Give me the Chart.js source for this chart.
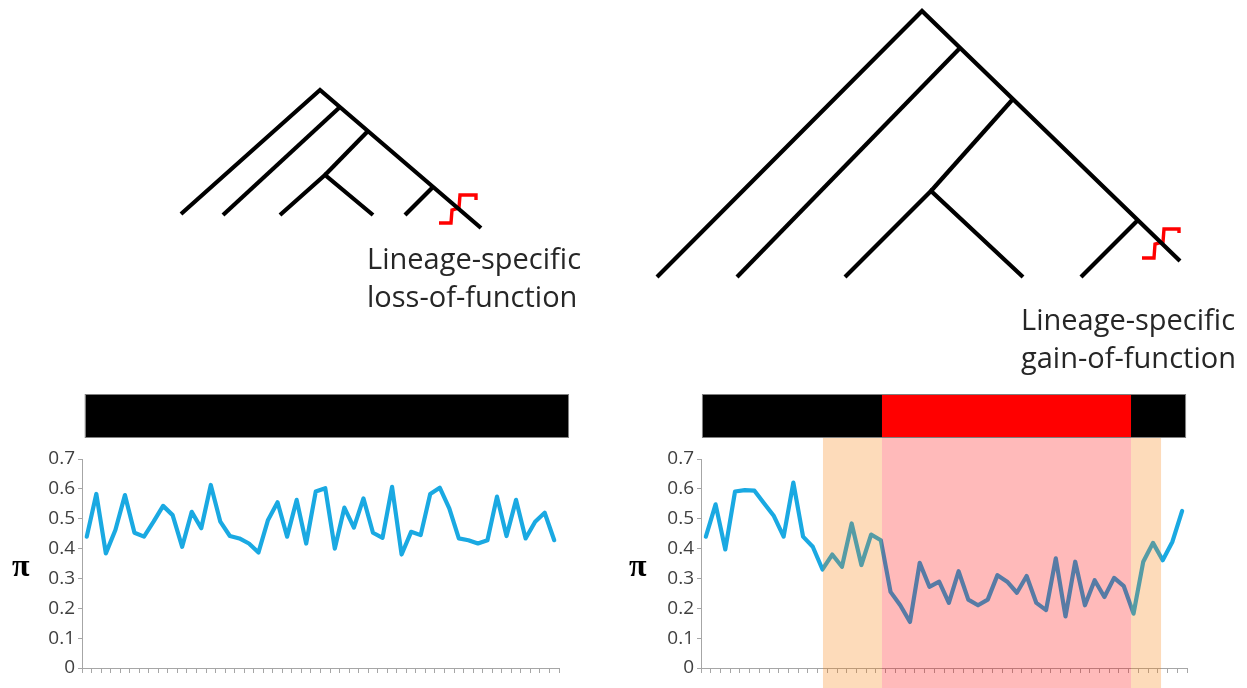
<!DOCTYPE html>
<html lang="en">
<head>
<meta charset="UTF-8">
<title>Lineage-specific loss and gain of function</title>
<script src="https://cdn.jsdelivr.net/npm/chart.js@4.4.1/dist/chart.umd.min.js"></script>
<style>
  html, body { margin: 0; padding: 0; background: #fff; }
  body { width: 1247px; height: 688px; position: relative; overflow: hidden; font-family: 'Open Sans', sans-serif; color: #262626; }
  canvas { position: absolute; }
  .note { position: absolute; font-size: 29px; line-height: 38px; white-space: nowrap; }
  .pi { position: absolute; font-family: 'Liberation Serif', serif; font-weight: bold; font-size: 32px; line-height: 32px; color: #000; }
</style>
</head>
<body>
<canvas id="trees" width="1247" height="390" style="left:0;top:0"></canvas>
<canvas id="piLoss" width="600" height="308" style="left:0;top:380px"></canvas>
<canvas id="piGain" width="637" height="308" style="left:610px;top:380px"></canvas>

<div class="note" style="left:367px;top:239px">Lineage-specific<br>loss-of-function</div>
<div class="note" style="left:1021px;top:300px">Lineage-specific<br>gain-of-function</div>
<div class="pi" style="left:12px;top:549px">π</div>
<div class="pi" style="left:629px;top:549px">π</div>

<script>
  // nucleotide diversity (pi) per window, 50 windows each
  const lossPi = [0.44, 0.583, 0.384, 0.462, 0.579, 0.453, 0.44, 0.49, 0.543, 0.512,
                  0.406, 0.523, 0.468, 0.613, 0.49, 0.442, 0.434, 0.417, 0.387, 0.496,
                  0.555, 0.44, 0.563, 0.417, 0.591, 0.602, 0.40, 0.537, 0.47, 0.568,
                  0.453, 0.436, 0.607, 0.38, 0.456, 0.445, 0.583, 0.604, 0.535, 0.434,
                  0.428, 0.417, 0.428, 0.574, 0.442, 0.563, 0.434, 0.49, 0.52, 0.428];
  const gainPi = [0.44, 0.548, 0.397, 0.591, 0.596, 0.594, 0.551, 0.509, 0.44, 0.621,
                  0.44, 0.406, 0.33, 0.38, 0.339, 0.484, 0.345, 0.447, 0.428, 0.255,
                  0.21, 0.154, 0.352, 0.272, 0.289, 0.218, 0.324, 0.229, 0.21, 0.229,
                  0.311, 0.289, 0.252, 0.308, 0.218, 0.194, 0.367, 0.173, 0.356, 0.21,
                  0.294, 0.238, 0.302, 0.274, 0.182, 0.356, 0.419, 0.361, 0.423, 0.526];
  const yTicks = [0, 0.1, 0.2, 0.3, 0.4, 0.5, 0.6, 0.7];

  // gene model bars and highlighted regions, in window units
  const lossBarBreaks = [0.3, 51.05];
  const gainBarBreaks = [0.1, 18.62, 44.24, 49.9];
  const gainShadeBreaks = [12.55, 18.62, 44.24, 47.33];

  // cladograms: each path is a list of [x, y] nodes
  const lossTree = [
    [[181, 214], [320, 90], [481, 228]],
    [[223, 215], [340, 107]],
    [[280, 215], [325, 175], [373, 215]],
    [[325, 175], [368, 131]],
    [[405, 215], [433, 187]]
  ];
  const gainTree = [
    [[657, 277], [922, 11], [1180, 261]],
    [[737, 277], [960, 48]],
    [[845, 277], [931, 191], [1023, 277]],
    [[931, 191], [1013, 99]],
    [[1081, 277], [1138, 220]]
  ];
  const lossMark = [[439, 223], [451, 223], [452, 210], [459, 208], [460, 195], [476, 195], [476, 200]];
  const gainMark = [[1142, 258], [1154, 258], [1155, 244], [1163, 242], [1164, 229], [1179, 229], [1179, 233]];

  const LINE_BLUE = '#1aa9e2';
  const AXIS_GREY = '#a6a6a6';
  Chart.defaults.font.family = "'Open Sans', sans-serif";

  function path(points, color, width) {
    return {
      data: points.map(p => ({ x: p[0], y: p[1] })),
      showLine: true, borderColor: color, borderWidth: width,
      pointRadius: 0, borderJoinStyle: 'miter', clip: false
    };
  }

  new Chart(document.getElementById('trees'), {
    type: 'scatter',
    data: {
      datasets: [
        ...lossTree.map(p => path(p, '#000', 4.2)),
        ...gainTree.map(p => path(p, '#000', 4.2)),
        path(lossMark, '#ff0000', 3.4),
        path(gainMark, '#ff0000', 3.4)
      ]
    },
    options: {
      responsive: false, animation: false, devicePixelRatio: 1,
      layout: { padding: 0 },
      plugins: { legend: { display: false }, tooltip: { enabled: false } },
      scales: {
        x: { type: 'linear', min: 0, max: 1247, display: false },
        y: { type: 'linear', min: 0, max: 390, reverse: true, display: false }
      }
    }
  });

  // draws the gene bar above the plot and the translucent region shading
  const stripPlugin = {
    id: 'strip',
    afterDatasetsDraw(chart, args, opts) {
      const { ctx } = chart;
      const x = chart.scales.x;
      ctx.save();
      const sb = opts.shadeBreaks || [];
      for (let i = 0; i < sb.length - 1; i++) {
        const x0 = x.getPixelForValue(sb[i]), x1 = x.getPixelForValue(sb[i + 1]);
        ctx.fillStyle = opts.shadeColors[i];
        ctx.fillRect(x0, opts.barBottom, x1 - x0, chart.height - opts.barBottom);
      }
      const bb = opts.barBreaks;
      for (let i = 0; i < bb.length - 1; i++) {
        const x0 = x.getPixelForValue(bb[i]), x1 = x.getPixelForValue(bb[i + 1]);
        ctx.fillStyle = opts.barColors[i];
        ctx.fillRect(x0, opts.barTop, x1 - x0, opts.barBottom - opts.barTop);
      }
      const xa = Math.round(x.getPixelForValue(bb[0])) + 0.5;
      const xb = Math.round(x.getPixelForValue(bb[bb.length - 1])) - 0.5;
      ctx.strokeStyle = '#808080';
      ctx.lineWidth = 1;
      ctx.strokeRect(xa, opts.barTop + 0.5, xb - xa, opts.barBottom - opts.barTop - 1);
      ctx.restore();
    }
  };

  function piChart(id, values, axisWidth, padRight, strip) {
    return new Chart(document.getElementById(id), {
      type: 'line',
      data: {
        datasets: [{
          data: values.map((v, i) => ({ x: i + 0.5, y: v })),
          borderColor: LINE_BLUE, borderWidth: 4.2, pointRadius: 0, tension: 0,
          borderJoinStyle: 'round', borderCapStyle: 'round'
        }]
      },
      options: {
        responsive: false, animation: false, devicePixelRatio: 1,
        layout: { padding: { top: 79, right: padRight, bottom: 0, left: 0 } },
        plugins: { legend: { display: false }, tooltip: { enabled: false }, strip: strip },
        scales: {
          x: {
            type: 'linear', min: 0, max: 50,
            afterFit: s => { s.height = 20; },
            ticks: { display: false, stepSize: 1 },
            grid: { drawOnChartArea: false, tickLength: 5, color: AXIS_GREY },
            border: { color: AXIS_GREY }
          },
          y: {
            min: 0, max: 0.7,
            afterBuildTicks: s => { s.ticks = yTicks.map(v => ({ value: v })); },
            afterFit: s => { s.width = axisWidth; },
            ticks: {
              padding: 3, color: '#404040', font: { size: 19 },
              callback: v => v === 0 ? '0' : v.toFixed(1)
            },
            grid: { drawOnChartArea: false, tickLength: 4, color: AXIS_GREY },
            border: { color: AXIS_GREY }
          }
        }
      },
      plugins: [stripPlugin]
    });
  }

  piChart('piLoss', lossPi, 82, 41, {
    barTop: 14, barBottom: 58,
    barBreaks: lossBarBreaks, barColors: ['#000000']
  });
  piChart('piGain', gainPi, 91, 60, {
    barTop: 14, barBottom: 58,
    barBreaks: gainBarBreaks, barColors: ['#000000', '#ff0000', '#000000'],
    shadeBreaks: gainShadeBreaks,
    shadeColors: ['rgba(247,122,0,0.27)', 'rgba(255,0,0,0.27)', 'rgba(247,122,0,0.27)']
  });
</script>
</body>
</html>
